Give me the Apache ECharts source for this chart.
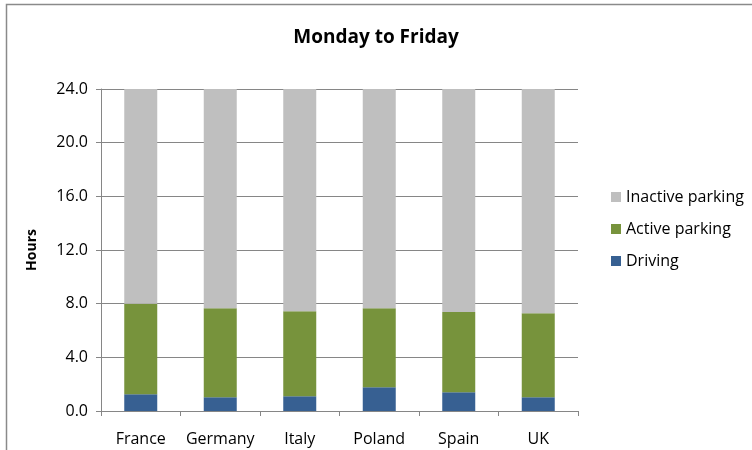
<!DOCTYPE html>
<html><head><meta charset="utf-8">
<script src="https://cdn.jsdelivr.net/npm/echarts@6/dist/echarts.min.js"></script>
<style>html,body{margin:0;padding:0;background:#fff}#c{width:752px;height:450px}</style>
</head><body><div id="c"></div>
<script>
const categories = ['France','Germany','Italy','Poland','Spain','UK'];
const driving = [1.25, 1.02, 1.1, 1.77, 1.4, 1.02];
const activeParking = [6.75, 6.64, 6.34, 5.89, 5.97, 6.27];
const inactiveParking = [16.0, 16.34, 16.56, 16.34, 16.63, 16.71];
const yTicks = {min: 0, max: 24, interval: 4};

const F = 'Open Sans';
const chart = echarts.init(document.getElementById('c'), null, {renderer: 'canvas'});
const barW = '41.5%';
chart.setOption({
  animation: false,
  backgroundColor: '#fff',
  textStyle: {fontFamily: F},
  title: {text: 'Monday to Friday', left: 'center', top: 23, textStyle: {fontFamily: F, fontSize: 19, fontWeight: 'bold', color: '#000'}},
  graphic: [{type: 'rect', shape: {x: 6.5, y: 4.5, width: 900, height: 600}, style: {fill: 'none', stroke: '#8a8a8a', lineWidth: 1.5}, z: -1}],
  legend: {
    orient: 'vertical', left: 606, top: 184, itemGap: 16, itemWidth: 10, itemHeight: 10, icon: 'rect',
    data: ['Inactive parking', 'Active parking', 'Driving'],
    textStyle: {fontFamily: F, fontSize: 16, color: '#000'}
  },
  grid: {left: 101, top: 89, width: 477, height: 322, containLabel: false},
  xAxis: {
    type: 'category', data: categories,
    axisLine: {lineStyle: {color: '#868686', width: 1}},
    axisTick: {show: true, length: 5, lineStyle: {color: '#868686'}},
    axisLabel: {fontFamily: F, fontSize: 16, color: '#000', margin: 20, interval: 0}
  },
  yAxis: {
    type: 'value', min: yTicks.min, max: yTicks.max, interval: yTicks.interval,
    name: 'Hours', nameLocation: 'middle', nameGap: 62, nameRotate: 90,
    nameTextStyle: {fontFamily: F, fontSize: 14, fontWeight: 'bold', color: '#000'},
    axisLine: {show: true, lineStyle: {color: '#868686'}},
    axisTick: {show: true, length: 5, lineStyle: {color: '#868686'}},
    splitLine: {lineStyle: {color: '#868686'}},
    axisLabel: {fontFamily: F, fontSize: 16, color: '#000', margin: 13, formatter: v => v.toFixed(1)}
  },
  series: [
    {name: 'Driving', type: 'bar', stack: 'a', data: driving, barWidth: barW, itemStyle: {color: '#376092'}},
    {name: 'Active parking', type: 'bar', stack: 'a', data: activeParking, barWidth: barW, itemStyle: {color: '#77933C'}},
    {name: 'Inactive parking', type: 'bar', stack: 'a', data: inactiveParking, barWidth: barW, itemStyle: {color: '#BFBFBF'}}
  ]
});
</script></body></html>
